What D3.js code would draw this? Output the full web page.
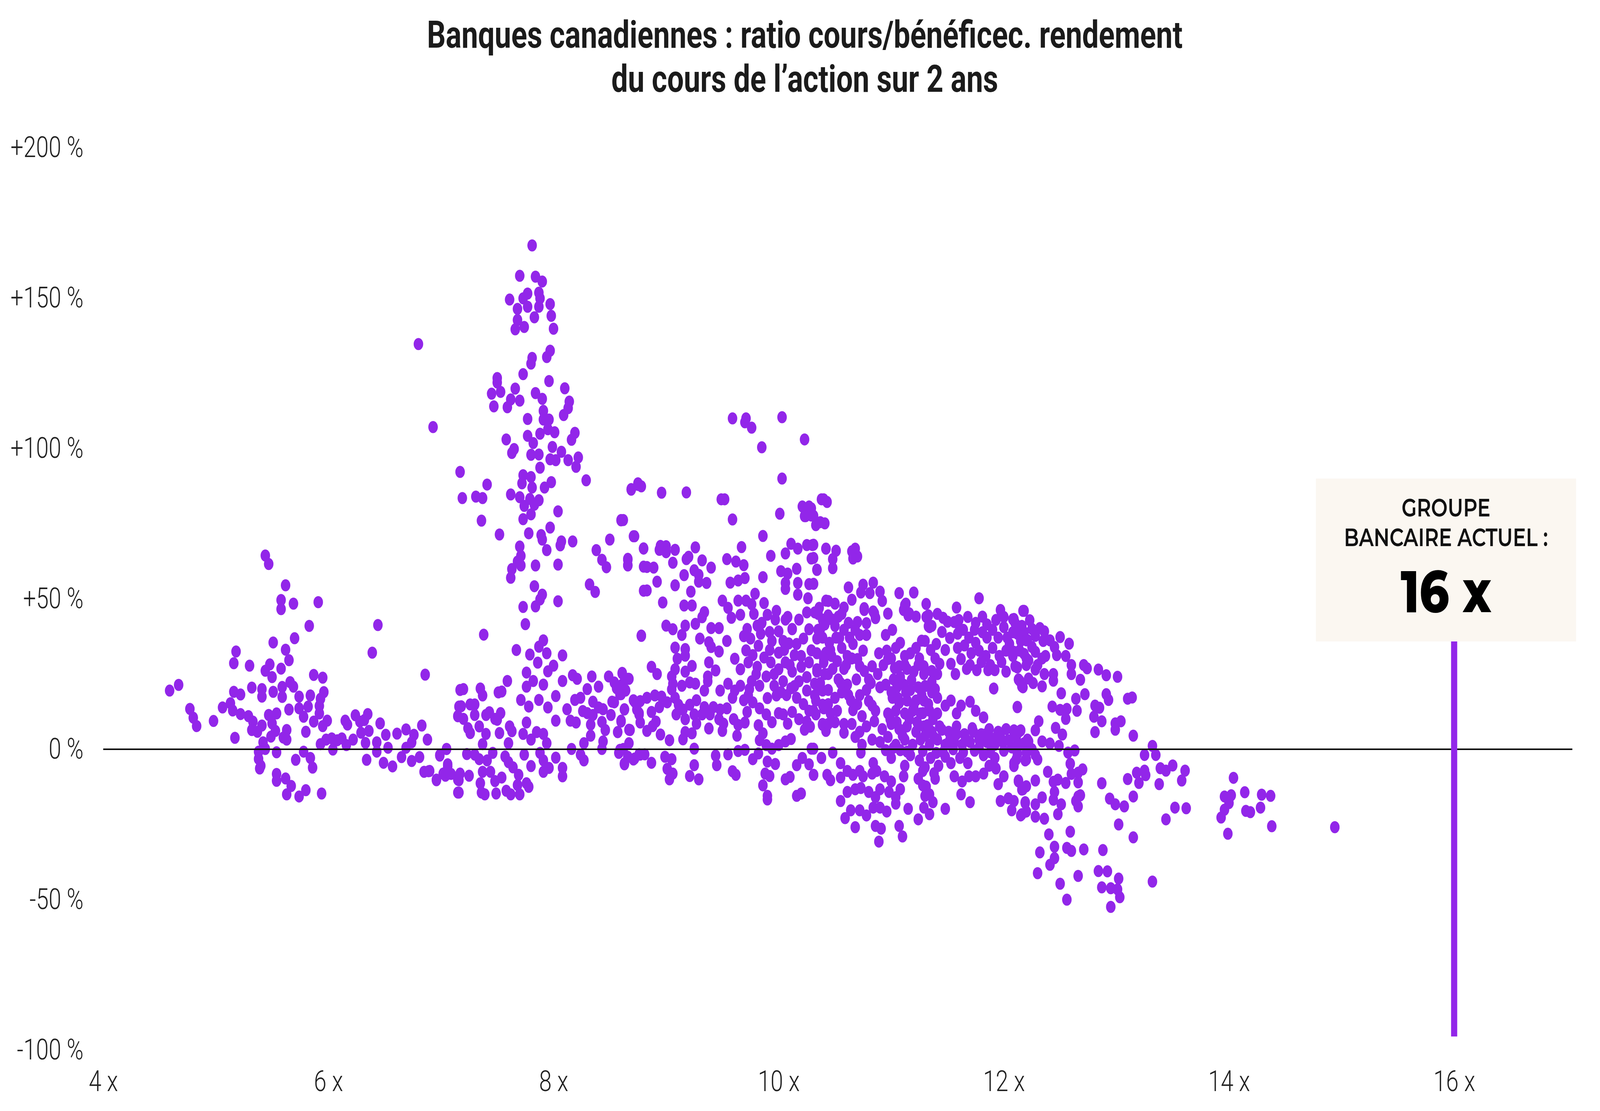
<!DOCTYPE html>
<html lang="fr">
<head>
<meta charset="utf-8">
<script src="https://cdn.jsdelivr.net/npm/d3@7"></script>
<style>
  html, body { margin: 0; padding: 0; background: #fff; overflow: hidden; }
  svg { display: block; width: 100vw; height: 100vh; }
</style>
</head>
<body>
<div id="chart"></div>
<script>
var width = 5209;
var height = 2844;

// Axes
const xTicks = [4, 6, 8, 10, 12, 14, 16];
const yTicks = [-100, -50, 0, 50, 100, 150, 200];

const titleLines = [
  "Banques canadiennes : ratio cours/bénéficec. rendement",
  "du cours de l’action sur 2 ans"
];

// Repère : groupe bancaire actuel
const currentPE = 16;
const currentLineLow = -95.5;
const calloutLines = ["GROUPE", "BANCAIRE ACTUEL :"];
const calloutValue = "16 x";

// [ratio cours/bénéfice, rendement du cours sur 2 ans en %]
const pointsUnder7 = [
  [4.59,19.5],[4.67,21.4],[4.77,13.4],[4.80,10.5],[4.83,7.7],[4.98,9.4],[5.06,13.9],[5.13,15.3],[5.15,12.9],
  [5.16,19.1],[5.22,18.2],[5.22,11.7],[5.29,11.0],[5.18,32.5],[5.16,28.6],[5.30,27.8],[5.32,20.5],[5.17,3.8],
  [5.44,64.4],[5.47,61.6],[5.62,54.5],[5.58,49.6],[5.58,46.6],[5.69,48.4],[5.91,48.9],[5.83,41.0],[5.70,36.9],
  [5.51,35.5],[5.62,33.1],[5.65,29.6],[5.58,26.8],[5.48,28.2],[5.44,26.1],[5.50,24.0],[5.41,20.0],[5.51,19.1],
  [5.59,20.7],[5.41,17.5],[5.59,17.4],[5.66,22.3],[5.69,20.8],[5.87,24.7],[5.95,23.8],[5.96,19.0],[5.93,16.8],
  [5.84,17.9],[5.74,17.5],[5.74,13.6],[5.82,14.2],[5.92,14.4],[5.65,13.2],[5.54,11.9],[5.47,11.4],[5.78,10.8],
  [5.92,11.9],[5.87,9.2],[5.99,9.5],[5.95,7.7],[5.33,9.2],[5.32,6.4],[5.37,5.8],[5.41,7.9],[5.50,8.6],
  [5.53,6.1],[5.49,4.2],[5.42,2.3],[5.60,3.9],[5.63,6.4],[5.63,3.2],[5.80,5.8],[5.44,0.1],[5.38,-0.8],
  [5.54,-1.0],[5.38,-3.2],[5.40,-5.5],[5.39,-6.4],[5.71,-3.5],[5.78,-0.8],[5.84,-2.9],[5.86,-6.1],[5.54,-8.2],
  [5.54,-10.5],[5.62,-9.7],[5.67,-12.2],[5.63,-15.0],[5.74,-15.7],[5.80,-13.6],[5.94,-14.7],[6.44,41.3],[6.39,32.1],
  [6.86,24.8],[5.93,1.7],[5.98,3.2],[6.03,3.6],[6.04,-0.1],[6.08,3.0],[6.12,3.6],[6.16,1.4],[6.15,9.5],
  [6.17,8.2],[6.22,3.2],[6.24,11.3],[6.28,9.2],[6.29,5.5],[6.32,9.7],[6.35,11.7],[6.36,6.1],[6.33,2.1],
  [6.34,-3.5],[6.46,8.6],[6.43,2.3],[6.43,-0.8],[6.49,-4.5],[6.51,4.8],[6.53,0.5],[6.57,-5.7],[6.61,5.2],
  [6.65,-2.6],[6.69,6.6],[6.69,0.5],[6.74,2.3],[6.74,-3.9],[6.76,4.8],[6.81,-2.6],[6.83,7.9],[6.88,3.2],
  [6.85,-7.5],[6.89,-7.3],[6.96,-10.1],[6.99,-1.9],[7.05,0.1],[7.06,-5.7],[7.04,-8.8],[7.09,-8.2],[7.15,-14.4],
  [7.15,-10.1],[7.17,19.7],[7.16,14.2],[7.15,11.0],[6.80,134.7]
];

const points7to9 = [
  [7.81,167.5],[7.70,157.4],[7.84,157.1],[7.90,155.5],[7.61,149.5],[7.77,151.5],[7.87,151.8],[7.88,149.9],[7.73,149.9],
  [7.68,146.4],[7.77,147.1],[7.87,147.1],[7.97,148.0],[7.98,144.1],[7.68,142.7],[7.83,143.6],[7.66,139.6],[7.74,140.4],
  [8.00,139.8],[7.97,132.5],[7.94,130.4],[7.81,130.1],[7.80,128.2],[7.73,124.7],[7.50,123.4],[7.50,121.9],[7.53,118.8],
  [7.45,118.2],[7.47,114.0],[7.66,119.9],[7.62,116.3],[7.59,113.7],[7.70,115.9],[7.84,118.4],[7.90,116.5],[7.96,122.4],
  [8.10,120.0],[8.14,115.6],[8.13,113.4],[8.09,111.1],[7.91,112.5],[7.91,109.6],[7.96,109.6],[8.01,105.4],[7.95,106.4],
  [7.77,109.8],[7.77,104.2],[7.88,104.9],[7.82,101.8],[7.58,103.0],[7.65,99.8],[7.63,98.5],[7.80,97.9],[7.87,98.0],
  [7.88,93.6],[7.99,100.5],[8.07,98.9],[7.97,96.4],[8.02,96.1],[8.16,102.9],[8.19,105.2],[8.13,96.1],[8.22,97.0],
  [8.20,93.9],[8.29,89.4],[6.93,107.1],[7.17,92.2],[7.19,83.5],[7.31,84.0],[7.37,83.5],[7.41,88.0],[7.36,76.0],
  [7.52,71.4],[7.73,91.1],[7.72,88.4],[7.80,90.5],[7.81,87.0],[7.62,84.7],[7.70,83.8],[7.74,80.9],[7.79,83.2],
  [7.83,81.3],[7.87,82.8],[7.92,87.0],[7.98,88.8],[7.80,78.1],[7.73,76.5],[7.78,71.8],[7.89,71.2],[7.90,69.7],
  [7.97,73.7],[8.04,79.1],[7.70,67.4],[7.71,64.3],[7.68,62.4],[7.71,61.1],[7.63,59.9],[7.62,57.0],[7.84,61.1],
  [7.94,66.2],[8.06,67.8],[8.07,69.1],[8.17,69.1],[8.04,61.4],[7.83,54.2],[7.90,51.4],[7.88,49.8],[7.84,47.5],
  [8.04,49.2],[7.73,47.3],[7.75,41.6],[8.38,66.2],[8.43,63.0],[8.47,60.5],[8.50,69.7],[8.60,76.2],[8.69,86.3],
  [8.75,88.4],[8.71,70.8],[8.66,63.0],[8.66,61.1],[8.80,66.8],[8.80,60.7],[8.32,54.8],[8.37,52.3],[8.80,52.7],
  [8.78,37.8],[7.38,38.1],[7.67,33.0],[7.79,31.5],[7.86,28.8],[7.87,34.1],[7.91,36.2],[7.94,31.9],[8.08,31.2],
  [8.00,27.8],[7.95,25.9],[7.76,25.5],[7.59,22.7],[7.20,20.0],[7.35,20.2],[7.37,17.9],[7.51,18.9],[7.54,19.2],
  [7.76,20.8],[7.82,22.7],[7.91,21.5],[8.08,22.7],[8.17,24.6],[8.21,23.4],[8.34,24.2],[8.49,24.2],[8.61,25.2],
  [8.67,23.4],[8.40,20.8],[8.30,20.0],[8.61,21.5],[8.64,19.6],[8.60,18.3],[7.18,14.3],[7.15,11.0],[7.20,10.1],
  [7.26,14.9],[7.30,14.9],[7.30,11.4],[7.24,7.0],[7.26,5.4],[7.34,7.6],[7.40,11.4],[7.43,12.3],[7.48,10.1],
  [7.53,12.0],[7.50,9.8],[7.61,7.6],[7.63,6.0],[7.71,16.4],[7.78,14.2],[7.87,16.4],[7.95,13.9],[8.02,9.5],
  [8.02,17.7],[8.12,13.3],[8.19,16.4],[8.24,17.1],[8.15,9.5],[8.20,8.9],[8.26,12.7],[8.30,12.0],[8.35,15.8],
  [8.35,11.4],[8.33,8.2],[8.40,13.9],[8.44,13.3],[8.43,9.1],[8.46,6.4],[8.52,15.8],[8.51,11.4],[8.57,5.7],
  [8.60,9.5],[8.63,13.3],[8.68,6.4],[8.72,15.8],[8.77,8.9],[8.76,12.0],[7.76,8.9],[7.73,5.1],[7.85,5.7],
  [7.91,5.1],[7.94,2.0],[7.80,3.2],[7.60,2.0],[7.52,5.4],[7.40,5.1],[7.37,1.7],[8.33,4.5],[8.27,2.0],
  [8.44,2.6],[8.43,0.1],[8.16,0.1],[8.62,0.1],[8.67,2.0],[7.05,0.1],[6.99,-2.1],[6.90,-7.2],[6.96,-10.3],
  [7.02,-8.1],[7.06,-5.0],[7.08,-8.1],[7.17,-8.1],[7.16,-10.3],[7.16,-14.4],[7.23,-1.6],[7.25,-8.8],[7.30,-1.8],
  [7.34,-3.3],[7.37,-7.5],[7.35,-11.3],[7.36,-14.4],[7.41,-3.7],[7.39,-15.0],[7.44,-7.5],[7.48,-10.6],[7.49,-14.7],
  [7.46,-1.2],[7.54,-9.4],[7.57,-2.4],[7.60,-4.3],[7.64,-6.0],[7.58,-13.8],[7.62,-15.0],[7.68,-11.9],[7.70,-15.0],
  [7.69,-8.5],[7.74,-1.8],[7.76,-11.3],[7.78,-12.5],[7.80,-5.6],[7.88,-1.2],[7.91,-3.7],[7.91,-7.5],[7.96,-6.2],
  [8.02,-2.8],[8.08,-6.2],[8.08,-9.0],[8.24,-1.8],[8.27,-3.7],[8.58,-1.2],[8.63,-4.7],[8.72,-3.1],[8.77,-1.8]
];

const points9to10 = [
  [9.59,110.0],[9.70,108.7],[9.76,106.9],[9.71,110.0],[9.85,100.4],[10.03,110.4],[10.23,103.0],[10.03,90.0],[9.52,83.1],
  [8.96,85.3],[8.78,87.4],[8.62,76.2],[10.40,83.1],[10.29,80.1],[10.24,77.5],[10.33,74.5],[10.43,82.2],[10.68,66.7],
  [10.70,64.1],[8.69,86.5],[8.75,87.9],[9.18,85.4],[9.49,83.1],[9.59,76.4],[10.01,78.3],[9.86,70.9],[10.21,80.7],
  [10.27,80.7],[10.23,77.5],[10.29,77.7],[10.37,75.5],[10.41,75.1],[10.38,83.1],[8.60,76.1],[8.72,70.8],[8.80,66.7],
  [8.66,63.3],[8.66,61.2],[8.83,60.6],[8.89,60.4],[8.83,52.8],[8.92,55.7],[8.95,67.6],[9.00,67.5],[8.94,66.3],
  [9.00,65.5],[9.08,66.3],[9.06,62.0],[9.18,63.2],[9.26,67.1],[9.20,64.0],[9.32,62.8],[9.25,59.5],[9.29,58.0],
  [9.40,60.4],[9.16,57.9],[9.29,55.7],[9.36,55.3],[9.08,54.5],[9.22,52.4],[8.97,48.8],[9.16,47.8],[9.23,47.8],
  [9.34,45.6],[9.32,43.9],[8.78,37.7],[9.00,41.1],[9.06,39.9],[9.14,38.0],[9.17,41.1],[9.26,41.7],[9.40,40.3],
  [9.47,40.3],[9.30,36.8],[9.38,35.6],[9.40,34.0],[9.08,33.8],[9.17,33.3],[9.17,31.1],[9.47,32.5],[9.54,36.0],
  [9.54,63.2],[9.67,67.2],[9.62,62.4],[9.69,61.2],[9.70,56.9],[9.57,55.4],[9.64,56.1],[9.50,49.4],[9.55,47.0],
  [9.58,43.7],[9.66,44.7],[9.64,49.4],[9.71,49.4],[9.76,48.2],[9.79,51.7],[9.87,48.6],[9.86,57.2],[9.93,64.3],
  [10.06,65.1],[10.11,68.3],[10.17,66.7],[10.25,67.9],[10.30,67.9],[10.29,63.4],[10.34,59.6],[10.16,60.0],[10.08,58.4],
  [10.02,59.2],[10.06,55.3],[10.06,53.3],[10.17,55.3],[10.27,54.9],[10.17,51.4],[10.26,50.2],[10.42,66.7],[10.42,49.4],
  [9.61,30.1],[9.66,26.6],[9.69,37.6],[9.75,36.8],[9.71,32.9],[9.82,34.4],[9.77,31.3],[9.81,41.1],[9.84,38.4],
  [9.90,44.7],[9.97,43.1],[10.00,39.2],[9.94,36.0],[10.00,32.1],[10.06,43.1],[10.12,39.9],[10.09,35.2],[10.14,31.3],
  [10.18,43.1],[10.22,36.8],[10.27,39.9],[10.29,32.9],[10.34,36.8],[10.39,43.1],[10.42,32.1],[10.25,45.5],[10.32,45.5],
  [10.37,39.9],[9.73,28.9],[9.81,27.4],[9.87,30.5],[9.93,28.9],[10.00,26.6],[10.06,28.9],[10.12,25.8],[10.20,27.4],
  [10.27,28.9],[10.34,26.6],[10.40,28.9],[10.44,25.0],[9.76,22.6],[9.83,21.1],[9.89,24.2],[9.96,21.1],[10.04,22.6],
  [10.11,20.3],[10.18,22.6],[10.25,19.5],[10.32,21.8],[10.39,19.5],[9.98,17.9],[10.16,17.1],[10.32,17.9],[10.39,14.8],
  [9.83,13.6],[9.89,11.6],[10.04,11.6],[10.12,12.4],[10.27,12.8],[10.33,11.6],[10.25,9.2],[10.08,8.5],[10.23,6.5],
  [10.39,8.1],[10.42,6.1],[9.86,5.3],[9.83,3.0],[9.89,1.4],[9.94,0.2],[10.00,1.4],[10.06,2.6],[10.11,3.4],
  [10.29,0.2],[9.77,-3.3],[9.82,-1.4],[9.90,-4.1],[9.97,-4.9],[9.88,-8.1],[9.92,-8.9],[9.86,-12.0],[9.90,-15.5],
  [9.90,-16.7],[10.06,-10.0],[10.10,-9.2],[10.16,-15.5],[10.20,-14.7],[10.16,-5.3],[10.21,-2.9],[10.27,-5.0],[10.31,-8.5],
  [10.38,-2.9],[10.43,-8.5],[8.61,25.4],[8.66,23.4],[8.54,22.2],[8.56,20.3],[8.64,19.5],[8.59,18.3],[8.54,15.6],
  [8.63,13.2],[8.60,9.2],[8.67,6.5],[8.57,5.7],[8.71,16.3],[8.77,16.0],[8.76,11.6],[8.74,13.2],[8.83,17.1],
  [8.87,12.4],[8.90,17.9],[8.96,17.5],[8.94,14.0],[8.91,9.2],[8.83,6.1],[8.88,7.7],[8.95,4.9],[9.03,3.0],
  [8.87,27.4],[8.92,25.0],[9.01,15.6],[9.05,19.9],[9.06,21.8],[9.05,24.2],[9.08,26.6],[9.10,30.1],[9.14,21.1],
  [9.17,25.8],[9.23,27.7],[9.21,22.2],[9.26,21.8],[9.08,17.1],[9.11,14.8],[9.09,11.6],[9.15,13.2],[9.17,10.0],
  [9.21,14.8],[9.27,16.3],[9.25,11.6],[9.27,8.5],[9.17,5.7],[9.15,3.3],[9.23,5.3],[9.32,11.6],[9.34,14.0],
  [9.39,11.6],[9.42,14.0],[9.48,13.2],[9.47,10.0],[9.54,13.6],[9.51,8.5],[9.38,6.9],[9.50,6.1],[9.34,19.5],
  [9.37,24.2],[9.38,28.9],[9.44,26.2],[9.37,22.6],[9.48,19.5],[9.55,21.8],[9.61,19.5],[9.59,17.1],[9.66,21.1],
  [9.60,10.0],[9.64,8.1],[9.63,4.5],[9.70,8.9],[9.72,12.4],[9.69,16.3],[9.73,17.9],[9.77,15.6],[8.59,-0.2],
  [8.63,-5.0],[8.66,-2.5],[8.71,-3.4],[8.76,-1.7],[8.81,-1.7],[8.87,-4.5],[8.99,-2.5],[9.05,-3.3],[9.01,-6.5],
  [9.06,-8.1],[9.03,-10.0],[9.25,0.2],[9.25,-5.3],[9.21,-8.9],[9.29,-10.0],[9.44,-2.1],[9.45,-5.3],[9.55,-1.7],
  [9.59,-7.3],[9.62,-8.5],[9.64,-0.6],[9.70,-0.2]
];

const points10to12 = [
  [10.31,77.6],[10.31,68.0],[10.42,66.7],[10.51,66.0],[10.48,63.2],[10.48,60.2],[10.65,65.8],[10.66,63.4],[10.31,63.6],
  [10.34,59.7],[10.31,55.0],[10.62,53.8],[10.65,49.7],[10.75,54.7],[10.84,55.4],[10.90,52.4],[10.92,49.3],[10.73,52.1],
  [10.81,51.9],[10.76,46.9],[10.84,45.8],[10.86,43.7],[10.97,45.1],[11.07,51.9],[11.20,52.1],[10.44,49.3],[10.50,48.4],
  [10.58,47.1],[10.35,45.0],[11.13,48.4],[11.11,46.3],[11.15,44.5],[11.22,44.1],[11.31,48.3],[11.33,44.5],[11.41,45.0],
  [11.46,43.7],[11.50,42.4],[11.34,40.6],[11.58,47.1],[11.59,41.9],[11.78,50.2],[11.81,44.1],[11.97,46.3],[12.18,46.0],
  [12.08,43.2],[10.70,42.3],[10.78,41.9],[10.68,39.7],[10.78,38.0],[10.72,38.0],[10.95,38.0],[11.01,39.7],[10.35,39.7],
  [10.41,41.5],[10.47,43.2],[10.53,44.1],[10.58,39.7],[10.63,37.1],[10.39,37.1],[10.45,35.4],[10.51,37.1],[10.56,33.7],
  [10.61,31.0],[10.34,31.9],[10.40,30.2],[10.47,31.0],[10.52,29.3],[10.58,26.7],[10.65,30.2],[10.72,27.6],[10.75,32.8],
  [10.69,23.2],[10.34,25.8],[10.41,25.0],[10.48,26.7],[10.53,23.2],[10.61,21.5],[10.36,20.6],[10.44,19.7],[10.50,17.1],
  [10.56,18.9],[10.64,16.2],[10.72,18.0],[10.78,19.7],[10.80,23.2],[10.33,16.2],[10.40,13.6],[10.46,11.9],[10.39,8.4],
  [10.44,8.4],[10.31,12.8],[10.52,12.8],[10.58,8.4],[10.83,27.6],[10.89,31.9],[10.96,32.8],[11.00,30.2],[11.04,33.7],
  [11.08,35.4],[11.12,31.0],[11.17,31.9],[11.22,33.7],[11.25,30.2],[11.07,27.6],[11.14,26.7],[11.20,25.8],[11.29,27.6],
  [11.39,30.2],[11.43,28.4],[11.41,25.0],[11.36,22.4],[10.90,20.6],[10.95,21.5],[11.02,23.2],[11.05,20.6],[11.11,21.5],
  [11.17,19.7],[11.24,20.6],[11.29,25.0],[11.01,17.1],[11.07,15.4],[11.14,16.2],[11.22,16.2],[11.29,16.2],[11.36,18.9],
  [11.41,17.1],[10.83,14.5],[10.86,12.8],[10.97,11.9],[11.04,12.8],[11.12,11.9],[11.19,12.8],[11.26,11.9],[11.34,12.8],
  [11.41,11.9],[11.48,14.5],[11.53,16.2],[11.62,14.5],[11.70,15.8],[11.75,12.8],[11.82,10.6],[11.58,11.9],[10.65,8.4],
  [10.72,5.8],[10.78,7.6],[10.85,9.3],[10.92,6.7],[11.00,8.4],[11.07,6.7],[11.14,7.6],[11.22,5.8],[11.29,7.6],
  [11.36,5.8],[11.43,7.6],[11.51,5.8],[11.58,7.6],[11.65,5.0],[11.73,5.8],[11.80,5.0],[11.87,6.7],[11.95,5.8],
  [12.02,6.7],[12.09,5.8],[12.15,6.3],[12.21,3.2],[10.68,4.1],[10.74,1.5],[10.83,3.2],[10.90,2.4],[10.97,4.1],
  [11.04,1.5],[11.12,3.2],[11.19,1.5],[11.26,3.2],[11.34,1.5],[11.41,3.2],[11.48,1.5],[11.56,2.4],[11.63,1.5],
  [11.70,2.4],[11.78,0.6],[11.85,2.4],[11.92,1.5],[11.99,2.4],[12.07,0.6],[12.14,1.5],[12.20,0.6],[10.73,-1.1],
  [10.95,-0.3],[11.00,-2.9],[11.08,-0.3],[11.17,-2.0],[11.25,-3.7],[11.35,-2.9],[11.42,-5.5],[11.48,-2.5],[11.53,-4.6],
  [11.61,-2.9],[11.68,-4.6],[11.82,-2.0],[11.92,-2.9],[12.09,-4.6],[12.19,-3.7],[11.56,42.3],[11.59,38.4],[11.64,39.7],
  [11.69,37.1],[11.74,39.7],[11.75,35.4],[11.81,38.9],[11.85,37.1],[11.90,39.7],[11.95,37.1],[12.00,40.6],[12.03,37.1],
  [12.08,38.9],[12.13,40.6],[12.18,38.9],[12.21,36.3],[11.59,33.7],[11.65,34.5],[11.71,31.9],[11.78,32.8],[11.84,31.0],
  [11.90,33.7],[11.96,31.0],[12.02,32.8],[12.08,31.0],[12.14,32.8],[12.20,30.2],[11.53,28.4],[11.57,25.0],[11.67,26.7],
  [11.76,26.3],[11.86,26.3],[11.92,26.3],[12.02,25.8],[12.10,27.6],[12.13,23.2],[12.17,20.6],[11.91,20.2],[12.12,14.1],
  [10.31,0.2],[10.38,-2.9],[10.48,-1.1],[10.31,-8.5],[10.46,-10.3],[10.55,-4.6],[10.55,-9.4],[10.61,-7.2],[10.66,-8.5],
  [10.72,-7.2],[10.75,-9.0],[10.55,-17.2],[10.61,-14.2],[10.68,-13.3],[10.73,-12.9],[10.80,-14.2],[10.86,-15.9],[10.90,-13.3],
  [10.84,-4.6],[10.87,-7.2],[10.83,-8.1],[10.94,-9.0],[11.00,-10.7],[10.98,-14.2],[11.04,-15.9],[11.08,-13.3],[11.04,-18.1],
  [11.11,-9.0],[11.12,-5.5],[11.24,-9.8],[11.28,-7.2],[11.31,-12.4],[11.30,-15.5],[11.39,-9.8],[11.42,-5.5],[11.37,-17.6],
  [11.24,-23.3],[11.15,-19.8],[11.29,-19.4],[11.34,-21.6],[11.48,-19.8],[10.59,-22.9],[10.64,-20.3],[10.72,-20.3],[10.78,-22.0],
  [10.84,-19.4],[10.90,-19.4],[10.96,-20.7],[10.68,-25.9],[10.86,-25.5],[10.91,-26.4],[10.89,-30.7],[11.07,-25.5],[11.10,-29.0],
  [11.56,-9.0],[11.63,-10.7],[11.69,-9.0],[11.75,-9.0],[11.82,-8.1],[11.87,-5.5],[11.93,-6.4],[11.62,-15.0],[11.70,-17.6],
  [11.95,-11.6],[12.00,-9.0],[11.97,-17.2],[12.04,-16.3],[12.07,-20.3],[12.13,-10.7],[12.17,-13.3],[12.19,-17.6],[12.15,-22.0],
  [12.20,-20.7]
];

// zones les plus denses (noyau 9,7 x – 12,5 x)
const pointsDenseCore = [
  [10.08,44],[10.12,40],[10.16,35],[10.05,33],[10.10,28],[10.20,31],[10.25,24],[10.14,21],[10.07,18],[10.22,15],
  [10.18,10],[10.28,7.5],[10.36,47],[10.44,44.5],[10.50,41],[10.56,45],[10.62,42],[10.66,35],[10.60,28],[10.55,22],
  [10.62,18],[10.66,13],[10.58,5.5],[10.50,9],[10.44,15],[10.37,22],[10.46,33],[10.54,37],[10.70,30],[10.76,26],
  [10.82,22],[10.88,25],[10.93,28],[10.80,16],[10.74,11],[10.70,15],[10.97,30],[11.03,27],[11.08,24],[11.12,28],
  [11.18,23],[11.24,28],[11.30,21],[11.36,26],[11.00,19],[11.06,17],[11.13,19],[11.20,14],[11.27,18],[11.33,15],
  [11.39,20],[10.99,10],[11.05,9],[11.10,4.5],[11.16,10],[11.23,9],[11.30,4.5],[11.37,10],[11.02,0.5],[11.14,-0.8],
  [11.28,-0.6],[11.40,-1.2],[10.76,46.3],[10.85,45.2],[10.86,43.6],[11.12,47.9],[11.16,45.2],[11.33,40.9],[11.27,36.1],
  [11.31,44],[11.36,41],[11.45,39],[11.52,37],[11.60,43],[11.68,44],[11.75,42],[11.85,41.5],[11.93,43],[12.00,44],
  [12.10,42],[12.25,40],[12.35,36],[12.45,34],[11.40,35],[11.48,33],[11.62,30],[11.70,28],[11.80,29],[11.88,28],
  [11.98,29],[12.05,35],[12.15,36],[12.25,34],[12.30,28],[11.32,8],[11.38,4],[11.45,6.5],[11.52,3],[11.58,5],
  [11.66,3.5],[11.72,7],[11.78,3.2],[11.84,5],[11.90,3.5],[11.97,4],[12.04,3],[12.11,4],[12.18,2],[11.46,-1],
  [11.55,0],[11.64,-1],[11.74,-0.5],[11.88,-1],[12.00,-0.5],[12.12,-1.5],[12.25,0],[11.30,36],[11.35,33],[11.28,12],
  [11.33,7.5],[11.30,-6],[11.38,-8],[11.28,-12],[11.34,-15],[9.72,40],[9.78,45],[9.85,42],[9.92,39],[9.98,46],
  [10.04,36],[9.80,25],[9.92,33],[9.96,25],[10.02,19],[9.74,20],[9.90,17],[9.94,9],[10.00,12],[9.82,8]
];

const pointsOver12 = [
  [12.17,46.0],[12.09,43.3],[12.23,42.9],[12.16,41.0],[12.32,40.3],[12.36,39.2],[12.50,37.3],[12.58,35.1],[12.41,36.2],
  [12.28,37.7],[12.20,36.2],[12.12,38.4],[12.09,32.4],[12.18,31.7],[12.28,32.4],[12.37,31.0],[12.47,31.3],[12.55,31.0],
  [12.22,29.5],[12.34,30.2],[12.12,27.2],[12.20,28.0],[12.28,26.5],[12.36,25.0],[12.44,25.0],[12.44,22.8],[12.60,28.0],
  [12.60,25.0],[12.68,23.1],[12.71,28.0],[12.74,26.9],[12.84,26.5],[12.91,24.6],[13.01,24.1],[12.14,22.8],[12.16,20.9],
  [12.26,22.0],[12.34,20.9],[12.22,23.5],[12.51,18.6],[12.64,16.8],[12.72,18.3],[12.91,18.3],[12.93,16.4],[13.10,16.8],
  [13.14,17.2],[12.12,14.0],[12.43,14.2],[12.50,13.1],[12.56,13.4],[12.55,10.1],[12.65,12.8],[12.81,14.5],[12.85,13.8],
  [12.80,10.8],[12.87,9.3],[12.81,5.7],[12.99,8.6],[13.04,9.3],[12.99,6.5],[13.15,4.5],[12.31,9.3],[12.46,7.1],
  [12.52,4.9],[12.28,6.3],[12.14,6.0],[12.09,6.3],[12.22,2.6],[12.34,2.6],[12.41,1.9],[12.49,1.1],[12.13,1.1],
  [12.20,-1.1],[12.28,-1.9],[12.30,-3.4],[12.11,-3.4],[12.20,-3.4],[12.09,-5.6],[12.57,-1.1],[12.63,-0.4],[12.59,-4.8],
  [13.32,1.1],[13.25,-1.9],[13.35,-1.9],[12.39,-7.5],[12.13,-10.4],[12.16,-13.4],[12.20,-12.3],[12.28,-10.4],[12.44,-10.8],
  [12.48,-10.1],[12.55,-11.2],[12.60,-8.2],[12.66,-7.8],[12.70,-6.7],[12.66,-11.0],[12.87,-11.3],[13.10,-9.9],[13.18,-7.8],
  [13.25,-7.1],[13.26,-8.6],[13.20,-11.2],[13.38,-11.6],[13.39,-6.3],[13.44,-7.1],[13.50,-5.4],[13.61,-7.1],[13.58,-10.4],
  [12.09,-17.2],[12.19,-17.9],[12.16,-21.6],[12.28,-18.3],[12.34,-16.0],[12.45,-14.2],[12.44,-16.8],[12.51,-18.3],[12.48,-21.6],
  [12.28,-22.4],[12.36,-23.1],[12.66,-15.7],[12.68,-15.3],[12.64,-17.2],[12.66,-19.0],[12.94,-16.4],[12.99,-18.3],[13.07,-19.0],
  [13.15,-15.7],[13.02,-25.0],[13.15,-29.3],[13.52,-19.4],[13.62,-19.6],[13.44,-23.3],[14.04,-9.5],[13.96,-15.7],[14.02,-15.3],
  [14.00,-17.9],[13.96,-20.1],[13.93,-22.7],[13.99,-28.1],[14.14,-14.3],[14.15,-20.5],[14.19,-20.9],[14.29,-15.1],[14.37,-15.5],
  [14.28,-19.4],[14.38,-25.6],[14.94,-25.9],[12.40,-28.3],[12.59,-27.4],[12.45,-32.4],[12.32,-34.3],[12.45,-36.2],[12.41,-38.4],
  [12.56,-32.8],[12.60,-33.8],[12.71,-33.3],[12.88,-33.5],[12.30,-41.2],[12.66,-42.1],[12.50,-44.7],[12.56,-50.0],[12.84,-40.5],
  [12.92,-40.6],[13.02,-43.0],[12.87,-45.9],[12.95,-46.2],[13.01,-46.6],[13.03,-49.2],[12.95,-52.4],[13.32,-44.0]
];

const points = [].concat(pointsUnder7, points7to9, points9to10, points10to12, pointsDenseCore, pointsOver12);

// viewBox étiré sur toute la fenêtre : le dessin garde les proportions de 5209 x 2844
const svg = d3
  .select("#chart")
  .append("svg")
  .attr("viewBox", `0 0 ${width} ${height}`)
  .attr("preserveAspectRatio", "none");

const xScale = d3.scaleLinear().domain([4, 17.05]).range([336, 5119]);
const yScale = d3.scaleLinear().domain([-100, 200]).range([2688, 378]);

// Titre
svg
  .append("text")
  .attr("x", 2620)
  .attr("y", 122)
  .style("font-family", "Roboto, sans-serif")
  .style("font-weight", 700)
  .style("font-size", "96px")
  .style("fill", "#1b1b1b")
  .style("text-anchor", "middle")
  .selectAll("tspan")
  .data(titleLines)
  .enter()
  .append("tspan")
  .attr("x", 2620)
  .attr("dy", (d, i) => (i === 0 ? 0 : 113))
  .text((d) => d);

// Axe Y (libellés seulement)
svg
  .append("g")
  .attr("class", "y-axis")
  .attr("transform", "translate(272,0)")
  .call(
    d3
      .axisLeft(yScale)
      .tickValues(yTicks)
      .tickSize(0)
      .tickPadding(0)
      .tickFormat((d) => (d > 0 ? "+" + d : d) + " %")
  )
  .call((g) => g.select(".domain").remove())
  .selectAll("text")
  .style("font-family", "Roboto, sans-serif")
  .style("font-weight", 300)
  .style("font-size", "74px")
  .style("fill", "#222");

// Axe X (libellés seulement)
svg
  .append("g")
  .attr("class", "x-axis")
  .attr("transform", "translate(0,2740)")
  .call(
    d3
      .axisBottom(xScale)
      .tickValues(xTicks)
      .tickSize(0)
      .tickPadding(0)
      .tickFormat((d) => d + " x")
  )
  .call((g) => g.select(".domain").remove())
  .selectAll("text")
  .style("font-family", "Roboto, sans-serif")
  .style("font-weight", 300)
  .style("font-size", "74px")
  .style("fill", "#222");

// Nuage de points
svg
  .append("g")
  .selectAll("circle")
  .data(points)
  .enter()
  .append("circle")
  .attr("cx", (d) => xScale(d[0]))
  .attr("cy", (d) => yScale(d[1]))
  .attr("r", 15.5)
  .attr("fill", "#9226e9");

// Ligne du zéro
svg
  .append("line")
  .attr("x1", xScale(4))
  .attr("x2", xScale(17.05))
  .attr("y1", yScale(0))
  .attr("y2", yScale(0))
  .attr("stroke", "#111")
  .attr("stroke-width", 4);

// Encadré du groupe bancaire actuel
var boxLeft = 4284, boxTop = 1225, boxW = 847, boxH = 417;
var boxCx = boxLeft + boxW / 2;

svg
  .append("line")
  .attr("x1", xScale(currentPE))
  .attr("x2", xScale(currentPE))
  .attr("y1", yScale(currentLineLow))
  .attr("y2", boxTop + boxH)
  .attr("stroke", "#9226e9")
  .attr("stroke-width", 20);

svg
  .append("rect")
  .attr("x", boxLeft)
  .attr("y", boxTop)
  .attr("width", boxW)
  .attr("height", boxH)
  .attr("fill", "#fbf7f1");

svg
  .append("g")
  .selectAll("text")
  .data(calloutLines)
  .enter()
  .append("text")
  .attr("x", boxCx)
  .attr("y", (d, i) => 1322 + i * 76)
  .style("font-family", "Montserrat, 'Open Sans', sans-serif")
  .style("font-weight", 600)
  .style("font-size", "64px")
  .style("fill", "#111")
  .style("text-anchor", "middle")
  .text((d) => d);

svg
  .append("text")
  .attr("x", boxCx)
  .attr("y", 1567)
  .style("font-family", "Montserrat, 'Open Sans', sans-serif")
  .style("font-weight", 800)
  .style("font-size", "150px")
  .style("fill", "#000")
  .style("text-anchor", "middle")
  .text(calloutValue);
</script>
</body>
</html>
